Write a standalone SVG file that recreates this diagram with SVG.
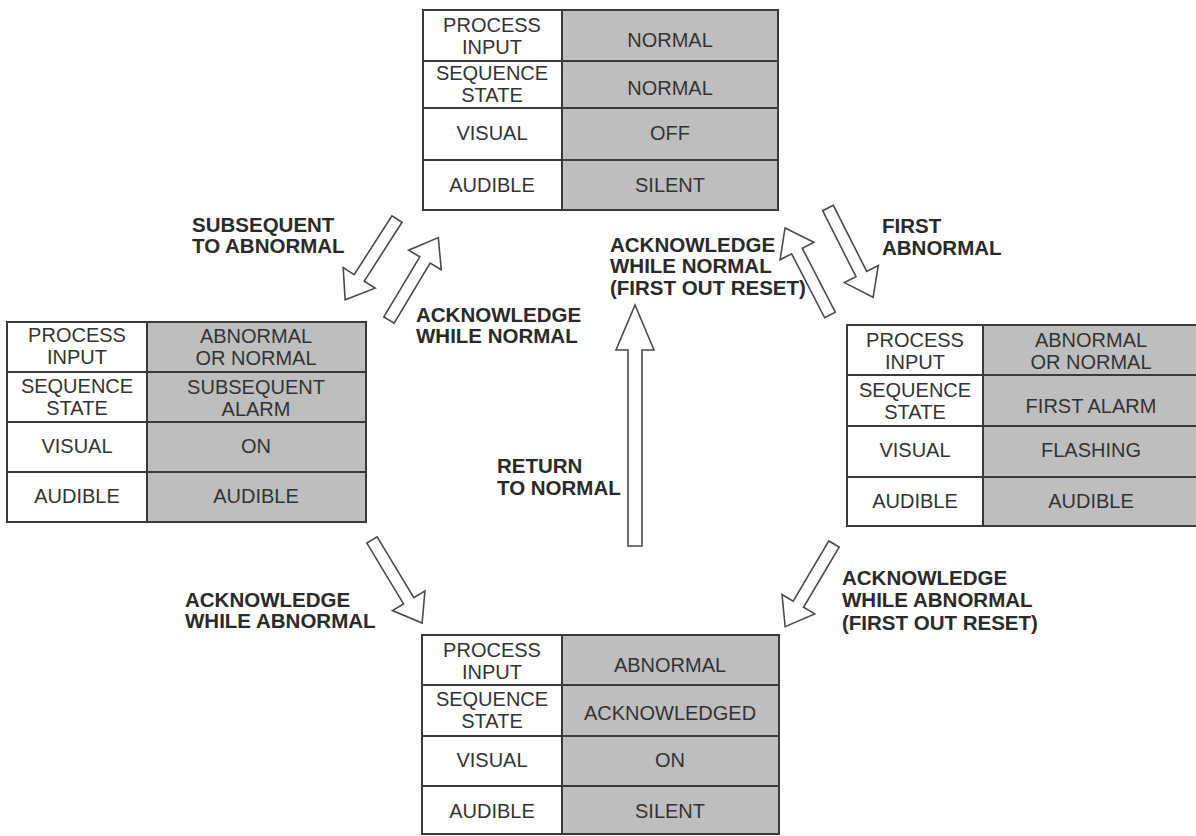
<svg xmlns="http://www.w3.org/2000/svg" width="1196" height="836" viewBox="0 0 1196 836">
  <style>
    .cell { fill: #ffffff; stroke: #3a3a3a; stroke-width: 2; }
    .shade { fill: #bebebe; stroke: #3a3a3a; stroke-width: 2; }
    .rule { stroke: #3a3a3a; stroke-width: 2; }
    .t { font-family: "Liberation Sans", Arial, sans-serif; font-size: 20px; fill: #333333; text-anchor: middle; }
    .lbl { font-family: "Liberation Sans", Arial, sans-serif; font-size: 20.5px; font-weight: bold; fill: #2a2a2a; }
    .arrow { fill: #ffffff; stroke: #4a4a4a; stroke-width: 1.6; stroke-linejoin: miter; }
  </style>
  <rect width="1196" height="836" fill="#ffffff"/>

  <!-- Normal state -->
  <g id="state-normal">
    <rect class="cell" x="423" y="10" width="355" height="200"/>
    <rect class="shade" x="562" y="10" width="216" height="200"/>
    <line class="rule" x1="423" y1="61" x2="778" y2="61"/>
    <line class="rule" x1="423" y1="108" x2="778" y2="108"/>
    <line class="rule" x1="423" y1="160" x2="778" y2="160"/>
    <text class="t" x="492" y="32">PROCESS</text>
    <text class="t" x="492" y="54">INPUT</text>
    <text class="t" x="492" y="80">SEQUENCE</text>
    <text class="t" x="492" y="102">STATE</text>
    <text class="t" x="492" y="140">VISUAL</text>
    <text class="t" x="492" y="192">AUDIBLE</text>
    <text class="t" x="670" y="47">NORMAL</text>
    <text class="t" x="670" y="95">NORMAL</text>
    <text class="t" x="670" y="140">OFF</text>
    <text class="t" x="670" y="192">SILENT</text>
  </g>

  <!-- Subsequent alarm state -->
  <g id="state-subsequent">
    <rect class="cell" x="7" y="322" width="359" height="200"/>
    <rect class="shade" x="147" y="322" width="219" height="200"/>
    <line class="rule" x1="7" y1="372" x2="366" y2="372"/>
    <line class="rule" x1="7" y1="422" x2="366" y2="422"/>
    <line class="rule" x1="7" y1="472" x2="366" y2="472"/>
    <text class="t" x="77" y="342">PROCESS</text>
    <text class="t" x="77" y="364">INPUT</text>
    <text class="t" x="77" y="393">SEQUENCE</text>
    <text class="t" x="77" y="415">STATE</text>
    <text class="t" x="77" y="453">VISUAL</text>
    <text class="t" x="77" y="503">AUDIBLE</text>
    <text class="t" x="256" y="343">ABNORMAL</text>
    <text class="t" x="256" y="365">OR NORMAL</text>
    <text class="t" x="256" y="394">SUBSEQUENT</text>
    <text class="t" x="256" y="416">ALARM</text>
    <text class="t" x="256" y="453">ON</text>
    <text class="t" x="256" y="503">AUDIBLE</text>
  </g>

  <!-- First alarm state -->
  <g id="state-first-alarm">
    <rect class="cell" x="847" y="325" width="360" height="201"/>
    <rect class="shade" x="983" y="325" width="224" height="201"/>
    <line class="rule" x1="847" y1="375" x2="1207" y2="375"/>
    <line class="rule" x1="847" y1="426" x2="1207" y2="426"/>
    <line class="rule" x1="847" y1="477" x2="1207" y2="477"/>
    <text class="t" x="915" y="347">PROCESS</text>
    <text class="t" x="915" y="369">INPUT</text>
    <text class="t" x="915" y="397">SEQUENCE</text>
    <text class="t" x="915" y="419">STATE</text>
    <text class="t" x="915" y="457">VISUAL</text>
    <text class="t" x="915" y="508">AUDIBLE</text>
    <text class="t" x="1091" y="347">ABNORMAL</text>
    <text class="t" x="1091" y="369">OR NORMAL</text>
    <text class="t" x="1091" y="413">FIRST ALARM</text>
    <text class="t" x="1091" y="457">FLASHING</text>
    <text class="t" x="1091" y="508">AUDIBLE</text>
  </g>

  <!-- Acknowledged state -->
  <g id="state-acknowledged">
    <rect class="cell" x="422" y="635" width="357" height="199"/>
    <rect class="shade" x="562" y="635" width="217" height="199"/>
    <line class="rule" x1="422" y1="685" x2="779" y2="685"/>
    <line class="rule" x1="422" y1="736" x2="779" y2="736"/>
    <line class="rule" x1="422" y1="786" x2="779" y2="786"/>
    <text class="t" x="492" y="657">PROCESS</text>
    <text class="t" x="492" y="679">INPUT</text>
    <text class="t" x="492" y="706">SEQUENCE</text>
    <text class="t" x="492" y="728">STATE</text>
    <text class="t" x="492" y="767">VISUAL</text>
    <text class="t" x="492" y="818">AUDIBLE</text>
    <text class="t" x="670" y="672">ABNORMAL</text>
    <text class="t" x="670" y="720">ACKNOWLEDGED</text>
    <text class="t" x="670" y="767">ON</text>
    <text class="t" x="670" y="818">SILENT</text>
  </g>

  <!-- Transitions: hollow block arrows, drawn along +x then rotated -->
  <g id="connectors">
    <polygon class="arrow" transform="translate(397,219) rotate(122.7)" points="0,-6 70,-6 70,-19 96,0 70,19 70,6 0,6"/>
    <polygon class="arrow" transform="translate(389,320) rotate(-59.1)" points="0,-6 70,-6 70,-19 96,0 70,19 70,6 0,6"/>
    <polygon class="arrow" transform="translate(830,315) rotate(-117.3)" points="0,-6 72,-6 72,-19 98,0 72,19 72,6 0,6"/>
    <polygon class="arrow" transform="translate(828,208) rotate(63.2)" points="0,-6 74,-6 74,-19 100,0 74,19 74,6 0,6"/>
    <polygon class="arrow" transform="translate(635,546) rotate(-90)" points="0,-7 196,-7 196,-19 241,0 196,19 196,7 0,7"/>
    <polygon class="arrow" transform="translate(372,540) rotate(58.9)" points="0,-6 71,-6 71,-19 97,0 71,19 71,6 0,6"/>
    <polygon class="arrow" transform="translate(834,544) rotate(120.6)" points="0,-6 70,-6 70,-19 96,0 70,19 70,6 0,6"/>
  </g>

  <!-- Transition labels -->
  <g id="labels">
    <text class="lbl" x="192" y="232">SUBSEQUENT</text>
    <text class="lbl" x="192" y="253">TO ABNORMAL</text>
    <text class="lbl" x="416" y="322">ACKNOWLEDGE</text>
    <text class="lbl" x="416" y="343">WHILE NORMAL</text>
    <text class="lbl" x="610" y="252">ACKNOWLEDGE</text>
    <text class="lbl" x="610" y="273">WHILE NORMAL</text>
    <text class="lbl" x="610" y="295">(FIRST OUT RESET)</text>
    <text class="lbl" x="882" y="233">FIRST</text>
    <text class="lbl" x="882" y="255">ABNORMAL</text>
    <text class="lbl" x="497" y="473">RETURN</text>
    <text class="lbl" x="497" y="495">TO NORMAL</text>
    <text class="lbl" x="185" y="607">ACKNOWLEDGE</text>
    <text class="lbl" x="185" y="628">WHILE ABNORMAL</text>
    <text class="lbl" x="842" y="585">ACKNOWLEDGE</text>
    <text class="lbl" x="842" y="607">WHILE ABNORMAL</text>
    <text class="lbl" x="842" y="630">(FIRST OUT RESET)</text>
  </g>
</svg>
